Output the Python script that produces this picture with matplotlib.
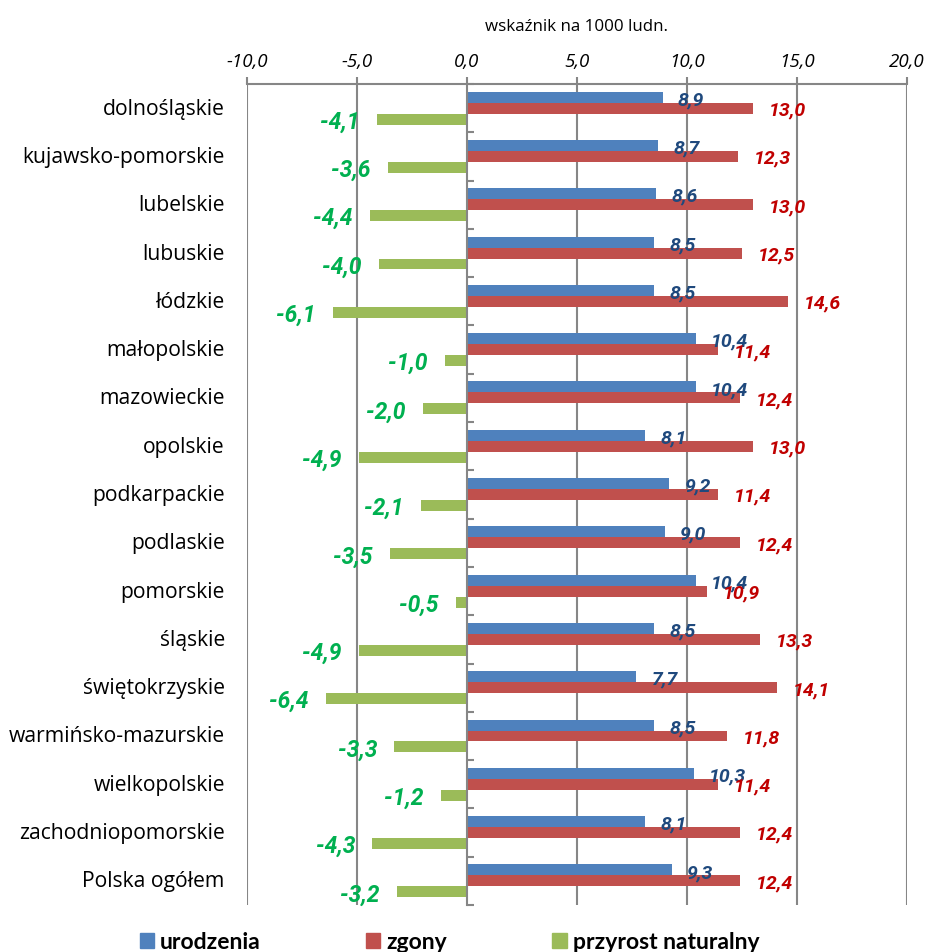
import matplotlib
matplotlib.use("Agg")
import matplotlib.pyplot as plt
from matplotlib.patches import Patch
import numpy as np

plt.rcParams['font.family'] = ['Open Sans', 'DejaVu Sans']

# dane: wskaźnik na 1000 ludności
regions = ["dolnośląskie", "kujawsko-pomorskie", "lubelskie", "lubuskie", "łódzkie",
           "małopolskie", "mazowieckie", "opolskie", "podkarpackie", "podlaskie",
           "pomorskie", "śląskie", "świętokrzyskie", "warmińsko-mazurskie",
           "wielkopolskie", "zachodniopomorskie", "Polska ogółem"]
births = [8.9, 8.7, 8.6, 8.5, 8.5, 10.4, 10.4, 8.1, 9.2, 9.0, 10.4, 8.5, 7.7, 8.5, 10.3, 8.1, 9.3]
deaths = [13.0, 12.3, 13.0, 12.5, 14.6, 11.4, 12.4, 13.0, 11.4, 12.4, 10.9, 13.3, 14.1, 11.8, 11.4, 12.4, 12.4]
growth = [-4.1, -3.6, -4.4, -4.0, -6.1, -1.0, -2.0, -4.9, -2.1, -3.5, -0.5, -4.9, -6.4, -3.3, -1.2, -4.3, -3.2]
xticks = [-10, -5, 0, 5, 10, 15, 20]

c_blue = "#4F81BD"
c_red = "#C0504D"
c_green = "#9BBB59"
grid_c = "#868686"
lab_font = ['Roboto', 'DejaVu Sans']


def fmt(v):
    return ("%.1f" % v).replace(".", ",")


fig = plt.figure(figsize=(9.25, 9.53), dpi=100)
ax = fig.add_axes([0.267, 0.0493, 0.7135, 0.8615])

y = np.arange(len(regions))
h = 0.227
ax.barh(y - h, births, height=h, color=c_blue, zorder=3)
ax.barh(y, deaths, height=h, color=c_red, zorder=3)
ax.barh(y + h, growth, height=h, color=c_green, zorder=3)

ax.set_xlim(-10, 20)
ax.set_ylim(len(regions) - 0.5, -0.5)

# etykiety danych
for i in range(len(regions)):
    ax.annotate(fmt(births[i]), (births[i], y[i] - h), xytext=(11, -1.5),
                textcoords="offset points", ha="left", va="center", family=lab_font,
                fontsize=14, fontweight="bold", style="italic", color="#1F497D", zorder=5)
    ax.annotate(fmt(deaths[i]), (deaths[i], y[i]), xytext=(11.5, -1),
                textcoords="offset points", ha="left", va="center", family=lab_font,
                fontsize=14, fontweight="bold", style="italic", color="#C00000", zorder=5)
    ax.annotate(fmt(growth[i]), (growth[i], y[i] + h), xytext=(-12.5, -1.5),
                textcoords="offset points", ha="right", va="center", family=lab_font,
                fontsize=16.5, fontweight="bold", style="italic", color="#00B050", zorder=5)
    ax.annotate(regions[i], (0, y[i]), xycoords=("axes fraction", "data"),
                xytext=(-16, 0), textcoords="offset points", ha="right", va="center",
                fontsize=15.2, color="#000000")

# oś X u góry
ax.xaxis.tick_top()
ax.xaxis.set_label_position("top")
ax.set_xticks(xticks)
ax.set_xticklabels([fmt(v) for v in xticks], fontsize=13.5, style="italic")
ax.tick_params(axis="x", direction="out", length=5, width=1.5, color=grid_c, pad=5)
ax.set_xlabel("wskaźnik na 1000 ludn.", fontsize=12.2, labelpad=16)

for v in xticks:
    if v != 0:
        ax.axvline(v, color=grid_c, lw=1.5, zorder=1)

# oś Y w zerze
ax.spines["left"].set_position(("data", 0))
ax.spines["left"].set_color(grid_c)
ax.spines["left"].set_linewidth(1.5)
ax.spines["left"].set_zorder(4)
ax.spines["top"].set_color(grid_c)
ax.spines["top"].set_linewidth(1.5)
ax.spines["right"].set_visible(False)
ax.spines["bottom"].set_visible(False)
ax.set_yticks(np.arange(len(regions) + 1) - 0.5)
ax.set_yticklabels([])
ax.tick_params(axis="y", direction="in", length=5, width=1.5, color=grid_c)

handles = [Patch(color=c_blue, label="urodzenia"),
           Patch(color=c_red, label="zgony"),
           Patch(color=c_green, label="przyrost naturalny")]
fig.legend(handles=handles, loc="center", bbox_to_anchor=(0.486, 0.0105), ncol=3,
           frameon=False, prop={"family": ['Lato', 'DejaVu Sans'], "size": 16.5, "weight": "bold"},
           handlelength=0.62, handleheight=0.62, handletextpad=0.26, columnspacing=4.6,
           borderaxespad=0, borderpad=0)

fig.savefig("out.png", dpi=100)
